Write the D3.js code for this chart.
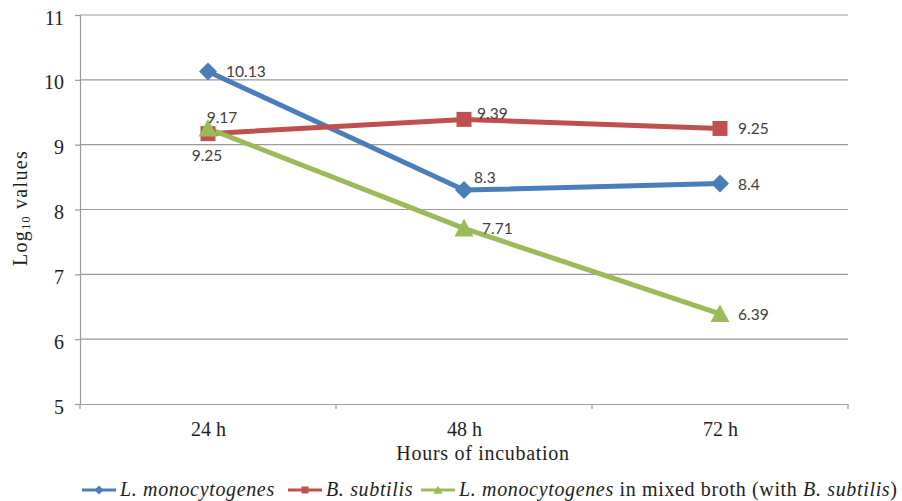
<!DOCTYPE html>
<html>
<head>
<meta charset="utf-8">
<script src="https://cdn.jsdelivr.net/npm/d3@7"></script>
<style>
  html, body { margin: 0; padding: 0; background: #fff; }
  svg { display: block; }
</style>
</head>
<body>
<svg id="chart" width="902" height="501"></svg>
<script>
// Incubation times (x categories)
const categories = ["24 h", "48 h", "72 h"];

// Log10 counts per series
const lMono = [10.13, 8.3, 8.4];
const bSub = [9.17, 9.39, 9.25];
const lMonoMixed = [9.25, 7.71, 6.39];

// Y axis ticks
const yTicks = [5, 6, 7, 8, 9, 10, 11];

// Where each value label sits relative to its point
const lMonoLabelPos = ["right", "aboveRight", "right"];
const bSubLabelPos = ["above", "upRight", "right"];
const lMonoMixedLabelPos = ["below", "right", "right"];

const series = [
  { name: "lmono", values: lMono, labelPos: lMonoLabelPos, color: "#4A7EBB", symbol: "diamond" },
  { name: "bsub", values: bSub, labelPos: bSubLabelPos, color: "#C0504D", symbol: "square" },
  { name: "mixed", values: lMonoMixed, labelPos: lMonoMixedLabelPos, color: "#9BBB59", symbol: "triangle" }
];

const svg = d3.select("#chart");
const plotLeft = 80, plotRight = 848, plotTop = 15, plotBottom = 404;

const x = d3.scalePoint().domain(categories).range([plotLeft, plotRight]).padding(0.5);
const y = d3.scaleLinear().domain([5, 11]).range([plotBottom, plotTop]);

const serif = "Liberation Serif, DejaVu Serif, serif";
const sans = "Lato, Open Sans, Liberation Sans, sans-serif";
const axisGrey = "#9a9a9a";
const textColor = "#1e1e1e";

// Horizontal gridlines
svg.append("g")
  .selectAll("line")
  .data(yTicks.filter(t => t > 5))
  .join("line")
  .attr("x1", plotLeft).attr("x2", plotRight)
  .attr("y1", d => y(d)).attr("y2", d => y(d))
  .attr("stroke", axisGrey).attr("stroke-width", 1.2);

// Y axis
const yAxis = svg.append("g")
  .attr("transform", `translate(${plotLeft},0)`)
  .call(d3.axisLeft(y).tickValues(yTicks).tickSize(5).tickPadding(11).tickFormat(d3.format("d")));
yAxis.select(".domain").attr("stroke", axisGrey).attr("stroke-width", 1.2);
yAxis.selectAll(".tick line").attr("stroke", axisGrey).attr("stroke-width", 1.2);
yAxis.selectAll(".tick text")
  .attr("dy", "0.45em")
  .style("font-family", serif).style("font-size", "20px").attr("fill", textColor);

// X axis with ticks on category boundaries
const xAxis = svg.append("g")
  .attr("transform", `translate(0,${plotBottom})`)
  .call(d3.axisBottom(x).tickSize(0).tickPadding(18));
xAxis.select(".domain").attr("stroke", axisGrey).attr("stroke-width", 1.2);
xAxis.selectAll(".tick text")
  .style("font-family", serif).style("font-size", "20px").attr("fill", textColor);
const step = x.step();
xAxis.selectAll("line.boundary")
  .data(d3.range(categories.length + 1))
  .join("line")
  .attr("class", "boundary")
  .attr("x1", i => plotLeft + i * step).attr("x2", i => plotLeft + i * step)
  .attr("y1", 0).attr("y2", 5)
  .attr("stroke", axisGrey).attr("stroke-width", 1.2);

// Axis titles
svg.append("text")
  .attr("x", 483).attr("y", 460)
  .attr("text-anchor", "middle")
  .style("font-family", serif).style("font-size", "20px").style("letter-spacing", "0.7px")
  .attr("fill", textColor)
  .text("Hours of incubation");

const yTitle = svg.append("text")
  .attr("transform", "translate(27,208) rotate(-90)")
  .attr("text-anchor", "middle")
  .style("font-family", serif).style("font-size", "20px").style("letter-spacing", "1.3px")
  .attr("fill", textColor);
yTitle.append("tspan").text("Log");
yTitle.append("tspan").style("font-size", "12px").attr("dy", 3).text("10");
yTitle.append("tspan").attr("dy", -3).text(" values");

// Marker shapes, Excel style: square, diamond (rotated square), triangle in a box
function markerPath(type, r) {
  if (type === "square") return `M${-r},${-r}H${r}V${r}H${-r}Z`;
  if (type === "diamond") return `M0,${-r}L${r},0L0,${r}L${-r},0Z`;
  return `M0,${-r}L${r},${r * 0.85}L${-r},${r * 0.85}Z`;
}
const markerRadius = { diamond: 9, square: 7.5, triangle: 9.5 };

// Lines and markers
const line = d3.line().x((d, i) => x(categories[i])).y(d => y(d));
series.forEach(s => {
  svg.append("path")
    .datum(s.values)
    .attr("d", line)
    .attr("fill", "none")
    .attr("stroke", s.color)
    .attr("stroke-width", 5)
    .attr("stroke-linejoin", "round");
});
series.forEach(s => {
  svg.append("g")
    .selectAll("path")
    .data(s.values)
    .join("path")
    .attr("transform", (d, i) => `translate(${x(categories[i])},${y(d)})`)
    .attr("d", markerPath(s.symbol, markerRadius[s.symbol]))
    .attr("fill", s.color);
});

// Value labels
const labelOffset = {
  right: [18, 6, "start"],
  upRight: [13, 0, "start"],
  aboveRight: [10, -7, "start"],
  above: [14, -11, "middle"],
  below: [-1, 33, "middle"]
};
series.forEach(s => {
  svg.append("g")
    .selectAll("text")
    .data(s.values)
    .join("text")
    .attr("x", (d, i) => x(categories[i]) + labelOffset[s.labelPos[i]][0])
    .attr("y", (d, i) => y(d) + labelOffset[s.labelPos[i]][1])
    .attr("text-anchor", (d, i) => labelOffset[s.labelPos[i]][2])
    .style("font-family", sans).style("font-size", "15.5px").attr("fill", "#404040")
    .text(d => d);
});

// Legend
const legendY = 490;
const legendItems = [
  { color: "#4A7EBB", symbol: "diamond", x: 82, parts: [["L. monocytogenes", true]] },
  { color: "#C0504D", symbol: "square", x: 288, parts: [["B. subtilis", true]] },
  { color: "#9BBB59", symbol: "triangle", x: 421,
    parts: [["L. monocytogenes", true], [" in mixed broth (with ", false], ["B. subtilis", true], [")", false]] }
];
const legend = svg.append("g");
legendItems.forEach(item => {
  legend.append("line")
    .attr("x1", item.x).attr("x2", item.x + 34)
    .attr("y1", legendY).attr("y2", legendY)
    .attr("stroke", item.color).attr("stroke-width", 3);
  legend.append("path")
    .attr("transform", `translate(${item.x + 17},${legendY})`)
    .attr("d", markerPath(item.symbol, item.symbol === "square" ? 3.5 : 4.5))
    .attr("fill", item.color);
  const t = legend.append("text")
    .attr("x", item.x + 38).attr("y", legendY + 6)
    .style("font-family", serif).style("font-size", "20px").style("letter-spacing", "0.65px")
    .attr("fill", textColor)
    .style("white-space", "pre");
  item.parts.forEach(([txt, it]) => {
    t.append("tspan").style("font-style", it ? "italic" : "normal").text(txt);
  });
});
</script>
</body>
</html>
